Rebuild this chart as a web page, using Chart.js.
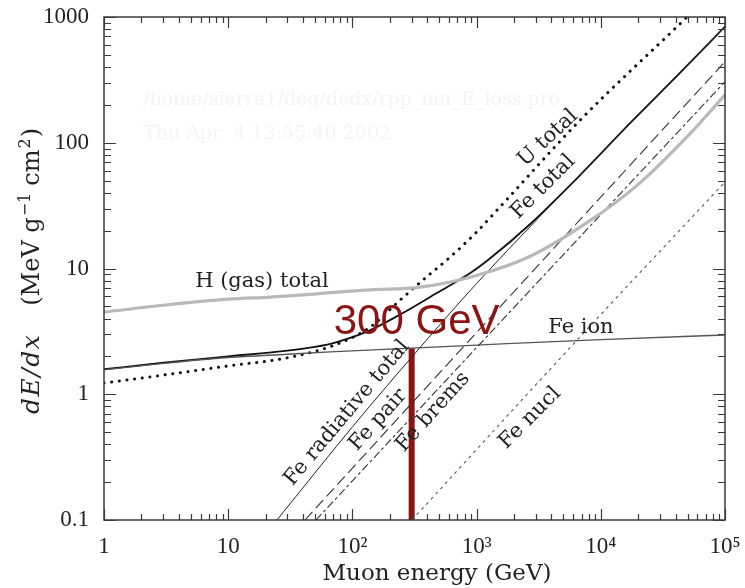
<!DOCTYPE html>
<html>
<head>
<meta charset="utf-8">
<script src="https://cdn.jsdelivr.net/npm/chart.js@4.4.0/dist/chart.umd.min.js"></script>
<style>
  html, body { margin: 0; padding: 0; background: #fff; }
  #wrap { width: 745px; height: 588px; }
</style>
</head>
<body>
<div id="wrap"><canvas id="dedx"></canvas></div>
<script>
// Muon energy loss: energy in GeV, dE/dx in MeV g^-1 cm^2
const hEnergy = [1, 3, 10, 22, 138, 350, 1000, 2700, 8180, 20700, 52300, 100000];
const hTotal  = [4.5, 5.1, 5.7, 5.93, 6.75, 7.1, 8.8, 12.5, 24, 48, 118, 240];

const uEnergy = [1, 3, 10, 30, 75, 138, 242, 370, 611, 1000, 1540, 6760, 49400, 100000];
const uTotal  = [1.23, 1.42, 1.68, 1.95, 2.5, 3.4, 5.6, 8.1, 12.3, 19.5, 30.8, 150, 1000, 2000];

const feEnergy = [1, 3, 10, 30, 50, 75, 138, 255, 478, 890, 1280, 2690, 6780, 17200, 43400, 100000];
const feTotal  = [1.58, 1.78, 2.0, 2.22, 2.38, 2.6, 3.22, 4.43, 6.38, 9.2, 12.0, 22.5, 55, 143, 359, 840];

const ionEnergy = [1, 3, 10, 30, 66, 300, 1000, 10000, 100000];
const feIon     = [1.56, 1.76, 1.96, 2.08, 2.17, 2.33, 2.46, 2.72, 2.96];

const radEnergy = [24.7, 100, 350, 1000, 10000, 100000];
const feRadiative = [0.1, 0.55, 2.35, 7.6, 82, 837];

const pairEnergy = [41.5, 1000, 100000];
const fePair     = [0.1, 3.1, 441];

const bremsEnergy = [50.9, 1000, 100000];
const feBrems     = [0.1, 2.35, 306];

const nuclEnergy = [302, 6450, 100000];
const feNucl     = [0.1, 2.7, 48.8];

// marker at 300 GeV, from the axis up to the Fe ionization curve
const markEnergy = [300, 300];
const markLevel  = [0.1, 2.33];

const xTickValues = [1, 10, 100, 1000, 10000, 100000];
const xTickLabels = ['1', '10', '10²', '10³', '10⁴', '10⁵'];
const yTickValues = [0.1, 1, 10, 100, 1000];
const yTickLabels = ['0.1', '1', '10', '100', '1000'];

const SERIF = "'DejaVu Serif', 'Liberation Serif', serif";
const TIMES = "'Liberation Serif', 'DejaVu Serif', serif";
const INK = '#222';

function pts(es, vs) {
  return es.map((e, i) => ({ x: e, y: vs[i] }));
}

// curve names, anchored in data coordinates
const curveLabels = [
  { text: 'U total', x: 3760, y: 109, angle: -43 },
  { text: 'Fe total', x: 3430, y: 44.5, angle: -45 },
  { text: 'H (gas) total', x: 18.7, y: 7.94, angle: 0 },
  { text: 'Fe ion', x: 6920, y: 3.37, angle: 0 },
  { text: 'Fe radiative total', x: 90.5, y: 0.71, angle: -50 },
  { text: 'Fe pair', x: 161, y: 0.624, angle: -48 },
  { text: 'Fe brems', x: 446, y: 0.723, angle: -48 },
  { text: 'Fe nucl', x: 2690, y: 0.647, angle: -45 }
];

const stampLines = ['/home/sierra1/deg/dedx/rpp_mu_E_loss.pro', 'Thu Apr  4 13:55:40 2002'];

function decadeTicks(min, max) {
  const out = [];
  const d0 = Math.round(Math.log10(min)), d1 = Math.round(Math.log10(max));
  for (let d = d0; d <= d1; d++) {
    for (let k = 1; k <= 9; k++) {
      const v = k * Math.pow(10, d);
      if (v <= max * 1.0001) out.push([v, k === 1]);
    }
  }
  return out;
}

// keep tick labels from pushing the plot area inwards
function noOverhang(s) {
  s.paddingTop = 0; s.paddingBottom = 0; s.paddingLeft = 0; s.paddingRight = 0;
}

const decorations = {
  id: 'decorations',
  beforeDatasetsDraw(chart) {
    const ctx = chart.ctx;
    ctx.save();
    ctx.fillStyle = '#f4f4f4';
    ctx.font = '19px ' + SERIF;
    ctx.textBaseline = 'middle';
    ctx.fillText(stampLines[0], 143, 100);
    ctx.fillText(stampLines[1], 143, 134);
    ctx.restore();
  },
  afterDatasetsDraw(chart) {
    const { ctx, chartArea: a, scales: { x, y } } = chart;
    ctx.save();

    // frame and inward ticks on all four sides
    ctx.strokeStyle = '#3a3a3a';
    ctx.lineWidth = 1.5;
    ctx.strokeRect(a.left, a.top, a.right - a.left, a.bottom - a.top);
    ctx.lineWidth = 1.2;
    ctx.beginPath();
    decadeTicks(x.min, x.max).forEach(([v, major]) => {
      const px = Math.round(x.getPixelForValue(v)) + 0.5, len = major ? 11 : 6;
      ctx.moveTo(px, a.bottom); ctx.lineTo(px, a.bottom - len);
      ctx.moveTo(px, a.top); ctx.lineTo(px, a.top + len);
    });
    decadeTicks(y.min, y.max).forEach(([v, major]) => {
      const py = Math.round(y.getPixelForValue(v)) + 0.5, len = major ? 12 : 7;
      ctx.moveTo(a.left, py); ctx.lineTo(a.left + len, py);
      ctx.moveTo(a.right, py); ctx.lineTo(a.right - len, py);
    });
    ctx.stroke();

    // curve names
    ctx.fillStyle = INK;
    ctx.font = '21px ' + SERIF;
    ctx.textAlign = 'center';
    ctx.textBaseline = 'middle';
    curveLabels.forEach(l => {
      ctx.save();
      ctx.translate(x.getPixelForValue(l.x), y.getPixelForValue(l.y));
      ctx.rotate(l.angle * Math.PI / 180);
      ctx.fillText(l.text, 0, 0);
      ctx.restore();
    });

    // 300 GeV marker text
    ctx.fillStyle = '#8b1414';
    ctx.font = "42px 'Liberation Sans', 'Open Sans', sans-serif";
    ctx.fillText('300 GeV', x.getPixelForValue(markEnergy[0]) + 5, y.getPixelForValue(3.75));

    // x axis title
    ctx.fillStyle = INK;
    ctx.font = '23px ' + SERIF;
    ctx.fillText('Muon energy (GeV)', 437, 574);

    // y axis title: italic dE/dx, units with raised exponents
    ctx.translate(31, 271);
    ctx.rotate(-Math.PI / 2);
    const parts = [
      { t: 'dE/dx', f: 'italic 25px ' + SERIF, dy: 0, gap: 28, sp: '1.5px' },
      { t: '(MeV g', f: '24px ' + SERIF, dy: 0, gap: 1 },
      { t: '−1', f: '16px ' + SERIF, dy: -9, gap: 7 },
      { t: 'cm', f: '24px ' + SERIF, dy: 0, gap: 1 },
      { t: '2', f: '16px ' + SERIF, dy: -9, gap: 1 },
      { t: ')', f: '24px ' + SERIF, dy: 0, gap: 0 }
    ];
    let total = 0;
    parts.forEach(p => {
      ctx.font = p.f;
      ctx.letterSpacing = p.sp || '0px';
      p.w = ctx.measureText(p.t).width;
      total += p.w + p.gap;
    });
    let cx = -total / 2;
    ctx.textAlign = 'left';
    ctx.textBaseline = 'alphabetic';
    parts.forEach(p => {
      ctx.font = p.f;
      ctx.letterSpacing = p.sp || '0px';
      ctx.fillText(p.t, cx, 8 + p.dy);
      cx += p.w + p.gap;
    });

    ctx.restore();
  }
};

const line = (data, color, width, dash, extra) => Object.assign({
  data: data,
  borderColor: color,
  borderWidth: width,
  borderDash: dash,
  pointRadius: 0,
  fill: false,
  cubicInterpolationMode: 'monotone'
}, extra || {});

new Chart(document.getElementById('dedx'), {
  type: 'line',
  data: {
    datasets: [
      line(pts(hEnergy, hTotal), '#b9b9b9', 3.2, []),
      line(pts(nuclEnergy, feNucl), '#555', 1.1, [3, 4]),
      line(pts(bremsEnergy, feBrems), '#333', 1.1, [8, 3, 3, 3]),
      line(pts(pairEnergy, fePair), '#333', 1.1, [11, 5]),
      line(pts(radEnergy, feRadiative), '#222', 1, []),
      line(pts(ionEnergy, feIon), '#555', 1.3, []),
      line(pts(feEnergy, feTotal), '#111', 1.8, []),
      line(pts(uEnergy, uTotal), '#111', 3, [0.1, 7.6], { borderCapStyle: 'round' }),
      line(pts(markEnergy, markLevel), '#8b1414', 6, [], { cubicInterpolationMode: 'default', tension: 0 })
    ]
  },
  options: {
    responsive: true,
    maintainAspectRatio: false,
    animation: false,
    events: [],
    layout: { padding: { top: 17, right: 20, left: 0, bottom: 0 } },
    plugins: { legend: { display: false }, tooltip: { enabled: false } },
    scales: {
      x: {
        type: 'logarithmic',
        min: 1,
        max: 100000,
        grid: { display: false, drawTicks: false },
        border: { display: false },
        afterBuildTicks: s => { s.ticks = xTickValues.map(v => ({ value: v })); },
        afterFit: s => { s.height = 68; noOverhang(s); },
        ticks: {
          autoSkip: false,
          maxRotation: 0,
          padding: 13,
          color: INK,
          font: { family: TIMES, size: 23 },
          callback: (v) => xTickLabels[xTickValues.indexOf(v)]
        }
      },
      y: {
        type: 'logarithmic',
        min: 0.1,
        max: 1000,
        grid: { display: false, drawTicks: false },
        border: { display: false },
        afterBuildTicks: s => { s.ticks = yTickValues.map(v => ({ value: v })); },
        afterFit: s => { s.width = 104; noOverhang(s); },
        ticks: {
          autoSkip: false,
          padding: 15,
          color: INK,
          font: { family: TIMES, size: 23 },
          callback: (v) => yTickLabels[yTickValues.indexOf(v)]
        }
      }
    }
  },
  plugins: [decorations]
});
</script>
</body>
</html>
